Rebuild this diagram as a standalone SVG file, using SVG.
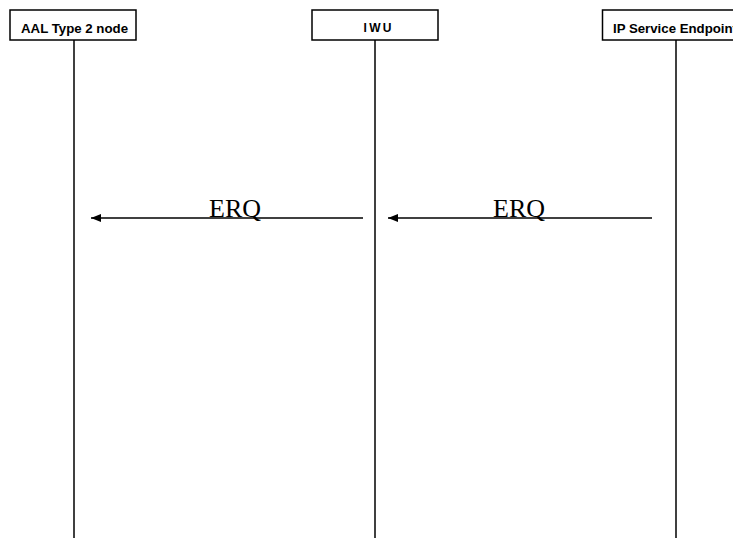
<svg xmlns="http://www.w3.org/2000/svg" width="733" height="538" viewBox="0 0 733 538">
<style>
.box{fill:#fff;stroke:#000;stroke-width:1.5}
.lbl{font-family:"Liberation Sans",Arial,sans-serif;font-weight:bold;font-size:12px;fill:#000}
.life{stroke:#000;stroke-width:1.5;fill:none}
.msg{stroke:#000;stroke-width:1.5;fill:none;marker-end:url(#ah)}
.mt{font-family:"Liberation Serif","Times New Roman",serif;font-size:26px;fill:#000}
</style>
<defs>
<marker id="ah" markerWidth="12" markerHeight="10" refX="10" refY="4" orient="auto" markerUnits="userSpaceOnUse">
<path d="M0,0 L10,4 L0,8 Z" fill="#000"/>
</marker>
</defs>
<rect width="733" height="538" fill="#fff"/>
<g id="connectors">
<line class="life" x1="74" y1="40" x2="74" y2="538"/>
<line class="life" x1="375" y1="40" x2="375" y2="538"/>
<line class="life" x1="676" y1="40" x2="676" y2="538"/>
<line class="msg" x1="363" y1="218" x2="91" y2="218"/>
<text class="mt" x="235" y="217" text-anchor="middle">ERQ</text>
<line class="msg" x1="652" y1="218" x2="388" y2="218"/>
<text class="mt" x="519" y="217" text-anchor="middle">ERQ</text>
</g>
<g id="node-aal">
<rect class="box" x="10" y="10" width="126" height="30"/>
<text class="lbl" x="21" y="33" textLength="107" lengthAdjust="spacingAndGlyphs">AAL Type 2 node</text>
</g>
<g id="node-iwu">
<rect class="box" x="312" y="10" width="126" height="30"/>
<text class="lbl" x="363.5" y="32" font-size="10" textLength="28" lengthAdjust="spacing">IWU</text>
</g>
<g id="node-ip">
<rect class="box" x="602.5" y="10" width="146" height="30"/>
<text class="lbl" x="613" y="33" textLength="124" lengthAdjust="spacingAndGlyphs">IP Service Endpoint</text>
</g>
</svg>
